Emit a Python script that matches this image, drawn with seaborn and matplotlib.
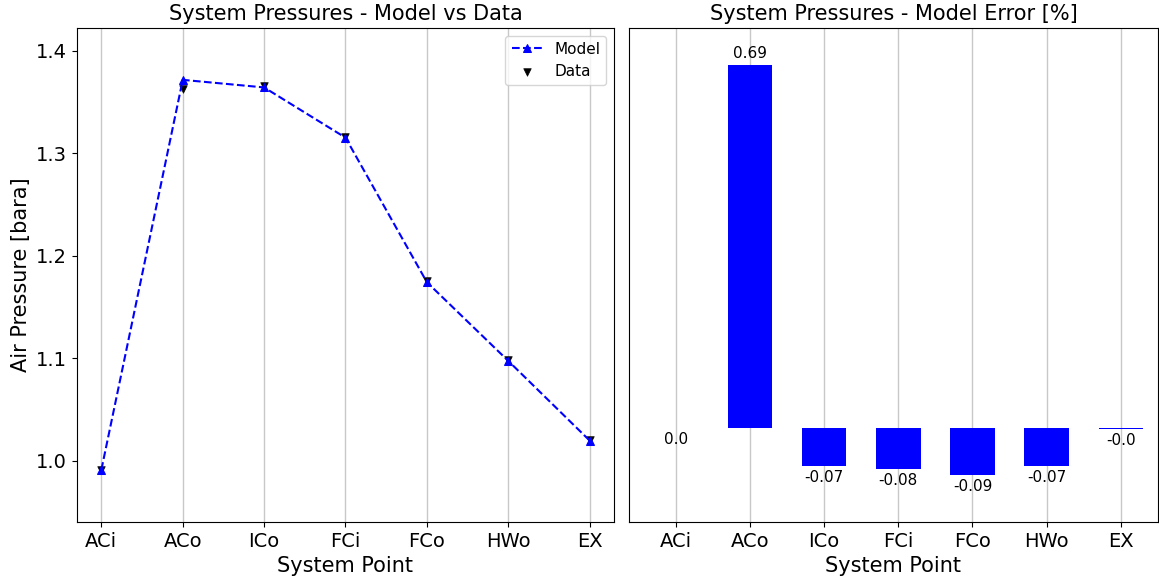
import matplotlib
matplotlib.use("Agg")
import matplotlib.pyplot as plt
import seaborn as sns
import numpy as np

# System points along the air path
points = ["ACi", "ACo", "ICo", "FCi", "FCo", "HWo", "EX"]

# Pressures [bara]
model_pressure = [0.991, 1.3714, 1.3640, 1.3150, 1.1740, 1.0972, 1.0195]
data_pressure = [0.991, 1.3620, 1.3650, 1.3160, 1.1750, 1.0980, 1.0197]

# Relative model error [%]
model_error = [0.0, 0.69, -0.072, -0.078, -0.089, -0.072, -0.002]

plt.rcParams["font.family"] = ["DejaVu Sans"]

fig = plt.figure(figsize=(11.59, 5.77), dpi=100)
ax1 = fig.add_axes([0.0664, 0.0953, 0.4634, 0.8562])
ax2 = fig.add_axes([0.5427, 0.0953, 0.4564, 0.8562])

x = np.arange(len(points))

# Left panel: model vs data
sns.lineplot(x=x, y=model_pressure, ax=ax1, color="blue", linestyle="--",
             marker="^", markersize=6, markeredgecolor="blue",
             label="Model", sort=False, zorder=3)
sns.scatterplot(x=x, y=data_pressure, ax=ax1, color="black", marker="v",
                s=30, edgecolor="black", label="Data", zorder=2)
ax1.set_xticks(x)
ax1.set_xticklabels(points)
ax1.set_xlim(-0.3, 6.3)
ax1.set_ylim(0.94, 1.422)
ax1.set_yticks([1.0, 1.1, 1.2, 1.3, 1.4])
ax1.grid(axis="x", color="#c8c8c8", linewidth=1)
ax1.set_axisbelow(True)
ax1.set_title("System Pressures - Model vs Data", fontsize=15)
ax1.set_xlabel("System Point", fontsize=15)
ax1.set_ylabel("Air Pressure [bara]", fontsize=15)
ax1.tick_params(labelsize=14)
ax1.legend(loc="upper right", fontsize=11)

# Right panel: model error per point
sns.barplot(x=points, y=model_error, ax=ax2, color="blue", saturation=1,
            width=0.6, linewidth=0)
for i, v in enumerate(model_error):
    above = v > 0
    ax2.annotate(f"{round(v, 2)}", xy=(i, v),
                 xytext=(0, 3 if above else -3), textcoords="offset points",
                 ha="center", va="bottom" if above else "top", fontsize=11)
ax2.set_xlim(-0.63, 6.5)
ax2.set_ylim(-0.179, 0.76)
ax2.set_yticks([])
ax2.grid(axis="x", color="#c8c8c8", linewidth=1)
ax2.set_axisbelow(True)
ax2.set_title("System Pressures - Model Error [%]", fontsize=15)
ax2.set_xlabel("System Point", fontsize=15)
ax2.set_ylabel("")
ax2.tick_params(labelsize=14)

fig.savefig("out.png", dpi=100)
